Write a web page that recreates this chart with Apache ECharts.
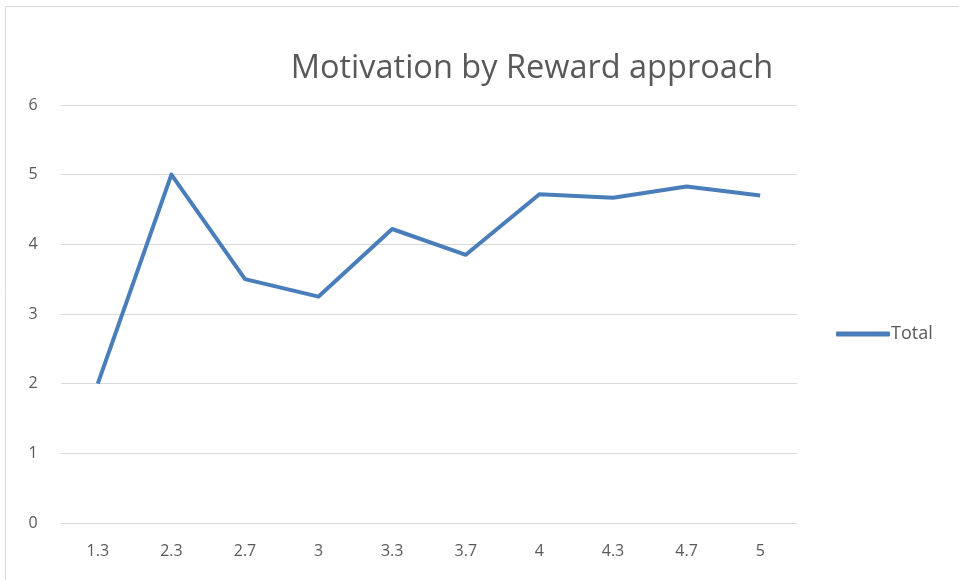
<!DOCTYPE html>
<html><head><meta charset="utf-8">
<script src="https://cdn.jsdelivr.net/npm/echarts@6/dist/echarts.min.js"></script>
<style>html,body{margin:0;padding:0;background:#fff}#c{width:959px;height:580px}</style>
</head><body><div id="c"></div>
<script>
const categories = ['1.3','2.3','2.7','3','3.3','3.7','4','4.3','4.7','5'];
const totalValues = [2.0, 5.0, 3.5, 3.25, 4.22, 3.85, 4.72, 4.67, 4.83, 4.7];
const seriesName = 'Total';
const titleText = 'Motivation by Reward approach';

const chart = echarts.init(document.getElementById('c'));
const font = '"Open Sans", "Noto Sans", sans-serif';
chart.setOption({
  animation: false,
  backgroundColor: '#fff',
  graphic: [{
    type: 'rect', shape: {x: 5.5, y: 6.5, width: 1200, height: 1000},
    style: {fill: 'none', stroke: '#d9d9d9', lineWidth: 1}, silent: true
  }],
  title: {
    text: titleText, left: 527, top: 47, textAlign: 'center',
    textStyle: {fontFamily: font, fontSize: 32.5, fontWeight: 'normal', color: '#595959'}
  },
  legend: {
    left: 831, top: 320, icon: 'roundRect', itemWidth: 54, itemHeight: 5, itemGap: 4,
    data: [seriesName],
    textStyle: {fontFamily: font, fontSize: 18, color: '#595959', padding: [0,0,0,-4]}
  },
  grid: {left: 61, right: 162, top: 105, bottom: 57},
  xAxis: {
    type: 'category', data: categories, boundaryGap: true,
    axisLine: {show: true, lineStyle: {color: '#d9d9d9', width: 1}},
    axisTick: {show: false},
    axisLabel: {fontFamily: font, fontSize: 16, color: '#595959', margin: 20}
  },
  yAxis: {
    type: 'value', min: 0, max: 6, interval: 1,
    axisLine: {show: false}, axisTick: {show: false},
    splitLine: {lineStyle: {color: '#d9d9d9', width: 1}},
    axisLabel: {fontFamily: font, fontSize: 16, color: '#595959', margin: 28, align: 'center'}
  },
  series: [{
    name: seriesName, type: 'line', data: totalValues,
    symbol: 'none', itemStyle: {color: '#4a7ebb'},
    lineStyle: {color: '#4a7ebb', width: 4, join: 'round'}
  }]
});
</script></body></html>
